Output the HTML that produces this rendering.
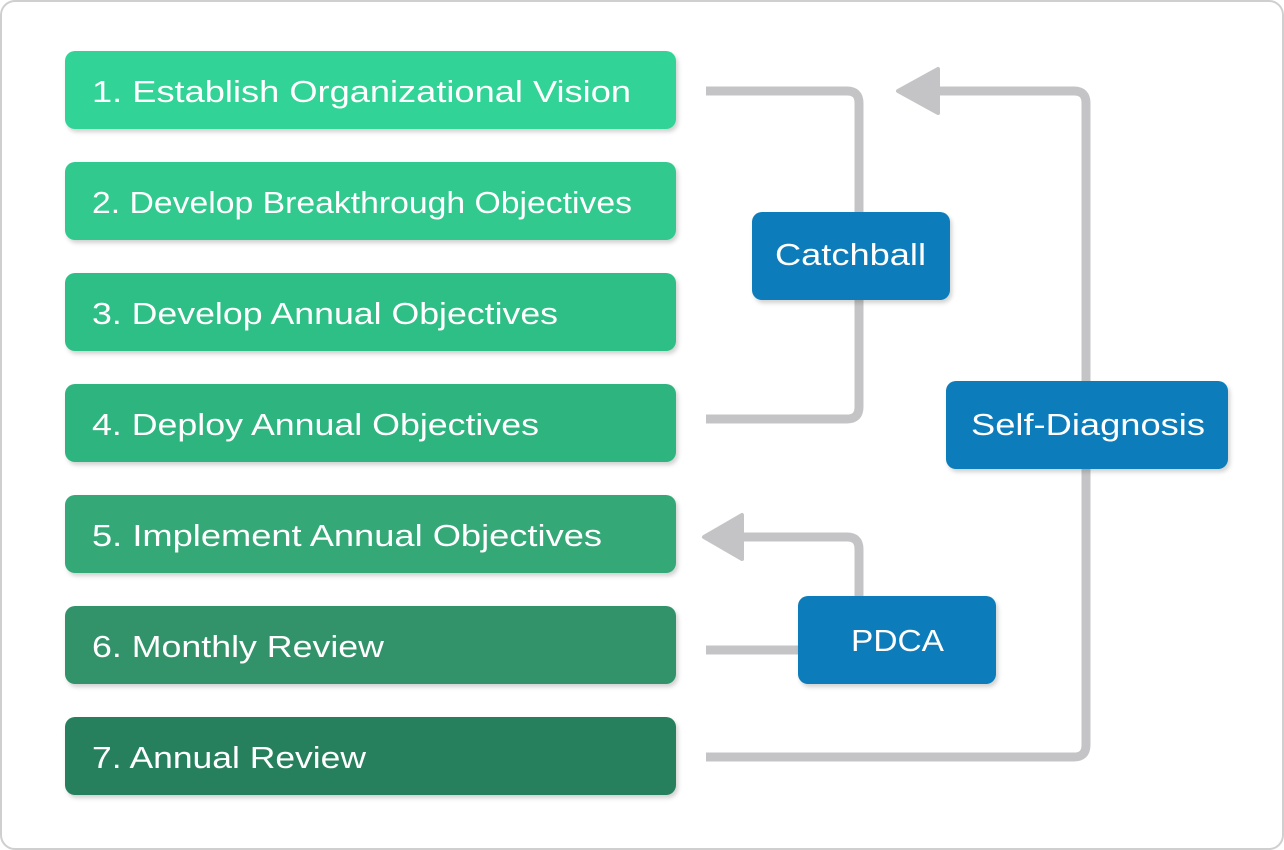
<!DOCTYPE html>
<html><head><meta charset="utf-8"><style>
html,body{margin:0;padding:0;background:#fff}
svg{display:block}
text{font-family:"Liberation Sans",sans-serif;fill:#fff}
</style></head><body>
<svg width="1284" height="850" viewBox="0 0 1284 850" xmlns="http://www.w3.org/2000/svg">
<defs>
<filter id="sh" x="-5%" y="-10%" width="110%" height="130%"><feDropShadow dx="2" dy="3" stdDeviation="2" flood-color="#000" flood-opacity="0.18"/></filter>
</defs>
<rect x="1" y="1" width="1282" height="848" rx="14" fill="#fff" stroke="#cfcfcf" stroke-width="2"/>
<g fill="none" stroke="#c4c4c6" stroke-width="9">
<path d="M706 91 H847 Q859 91 859 103 V407 Q859 419 847 419 H706"/>
<path d="M706 757 H1074 Q1086 757 1086 745 V103 Q1086 91 1074 91 H930"/>
<path d="M859 600 V549 Q859 537 847 537 H735"/>
<path d="M706 650 H800"/>
</g>
<g fill="#c4c4c6">
<polygon points="898,91 938,69 938,113" stroke="#c4c4c6" stroke-width="4" stroke-linejoin="round"/>
<polygon points="704,537 742,515 742,559" stroke="#c4c4c6" stroke-width="4" stroke-linejoin="round"/>
</g>
<g filter="url(#sh)">
<rect x="65" y="51" width="611" height="78" rx="10" fill="#33d396"/>
<rect x="65" y="162" width="611" height="78" rx="10" fill="#30c98e"/>
<rect x="65" y="273" width="611" height="78" rx="10" fill="#2dbf86"/>
<rect x="65" y="384" width="611" height="78" rx="10" fill="#2eb47f"/>
<rect x="65" y="495" width="611" height="78" rx="10" fill="#35a877"/>
<rect x="65" y="606" width="611" height="78" rx="10" fill="#30936b"/>
<rect x="65" y="717" width="611" height="78" rx="10" fill="#26805d"/>
<rect x="752" y="212" width="198" height="88" rx="10" fill="#077cba"/>
<rect x="946" y="381" width="282" height="88" rx="10" fill="#077cba"/>
<rect x="798" y="596" width="198" height="88" rx="10" fill="#077cba"/>
</g>
<g font-size="31">
<text x="92" y="102" textLength="539" lengthAdjust="spacingAndGlyphs">1. Establish Organizational Vision</text>
<text x="92" y="213" textLength="540" lengthAdjust="spacingAndGlyphs">2. Develop Breakthrough Objectives</text>
<text x="92" y="324" textLength="466" lengthAdjust="spacingAndGlyphs">3. Develop Annual Objectives</text>
<text x="92" y="435" textLength="447" lengthAdjust="spacingAndGlyphs">4. Deploy Annual Objectives</text>
<text x="92" y="546" textLength="510" lengthAdjust="spacingAndGlyphs">5. Implement Annual Objectives</text>
<text x="92" y="657" textLength="292" lengthAdjust="spacingAndGlyphs">6. Monthly Review</text>
<text x="92" y="768" textLength="274" lengthAdjust="spacingAndGlyphs">7. Annual Review</text>
<text x="775" y="265" textLength="151" lengthAdjust="spacingAndGlyphs">Catchball</text>
<text x="971" y="435" textLength="234" lengthAdjust="spacingAndGlyphs">Self-Diagnosis</text>
<text x="851" y="651" textLength="93" lengthAdjust="spacingAndGlyphs">PDCA</text>
</g>
</svg>
</body></html>
